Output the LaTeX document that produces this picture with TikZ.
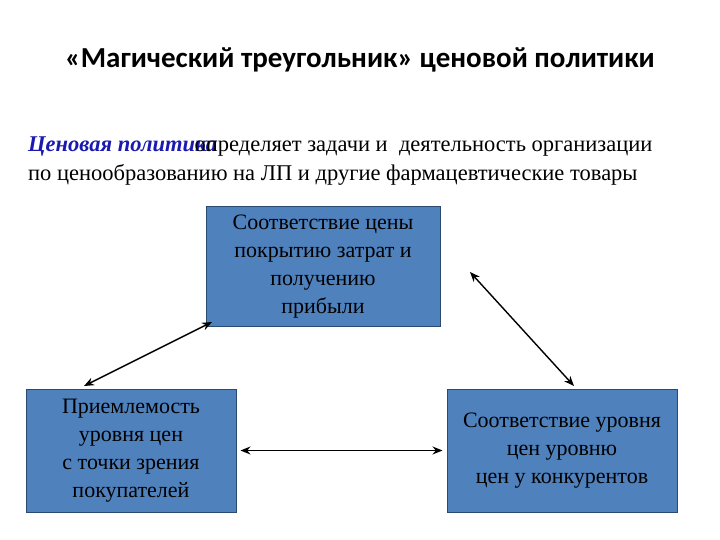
\documentclass[tikz,border=0pt]{standalone}
\usepackage{fontspec}
\setmainfont{Liberation Serif}
\newfontfamily\titlefont{Carlito}
\definecolor{boxblue}{HTML}{4F81BD}
\definecolor{boxedge}{HTML}{2B4A70}
\definecolor{pblue}{HTML}{1A1AB0}
\usetikzlibrary{arrows.meta}
\begin{document}
\begin{tikzpicture}[x=1pt,y=-1pt,
 bx/.style={draw=boxedge,line width=1pt,fill=boxblue,inner sep=0pt,align=center,font=\fontsize{22}{28}\selectfont},
 conn/.style={line width=1.4pt,{Stealth[length=10pt,width=8pt]}-{Stealth[length=10pt,width=8pt]}}]
\useasboundingbox (0,0) rectangle (720,540);
\node (title) at (360,60) {\titlefont\fontsize{29}{32}\selectfont\bfseries «Магический треугольник» ценовой политики};
\node[anchor=west,inner sep=0pt] (l1) at (28,147) {\fontsize{22.5}{26}\selectfont\textcolor{pblue}{\textbf{\textit{Ценовая политика}}}\hspace{-1em}определяет задачи и\ \ деятельность организации};
\node[anchor=west,inner sep=0pt] (l2) at (28,175) {\fontsize{22.5}{26}\selectfont по ценообразованию на ЛП и другие фармацевтические товары};
\node[bx,minimum width=234pt,minimum height=119pt] (top) at (323,266.5) {Соответствие цены\\покрытию затрат и\\получению\\прибыли};
\node[bx,minimum width=210pt,minimum height=123pt] (left) at (131,450.5) {Приемлемость\\уровня цен\\с точки зрения\\покупателей};
\node[bx,minimum width=230pt,minimum height=123pt] (right) at (562,450.5) {Соответствие уровня\\цен уровню\\цен у конкурентов};
\coordinate (a1) at (212,322); \coordinate (a2) at (84,386);
\coordinate (b1) at (470,272); \coordinate (b2) at (574,386);
\draw[conn] (a1) -- (a2);
\draw[conn] (b1) -- (b2);
\draw[conn] ([xshift=4pt]left.east) -- ([xshift=-4pt]right.west);
\end{tikzpicture}
\end{document}
